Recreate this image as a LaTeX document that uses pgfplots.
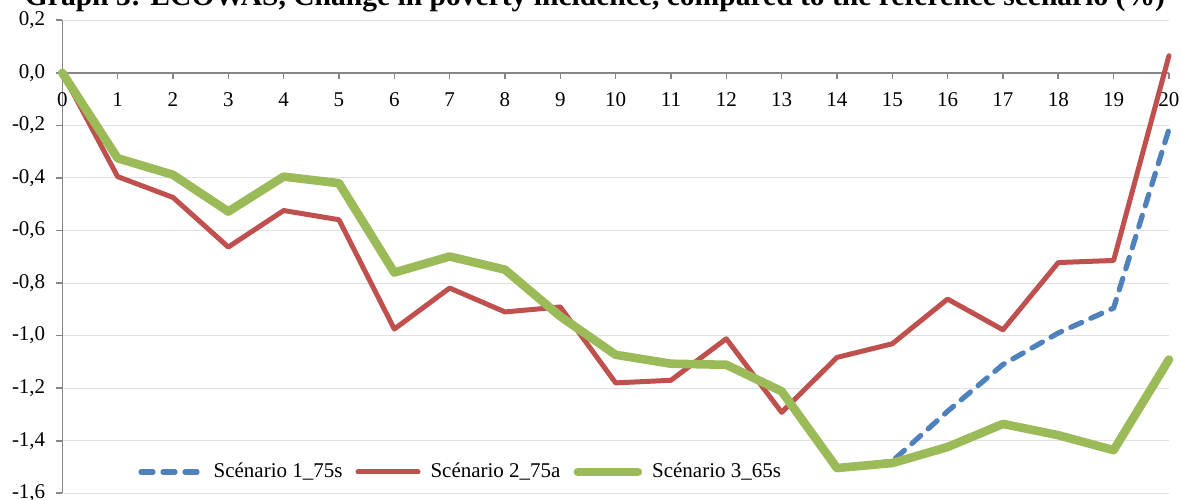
\documentclass[border=0pt]{standalone}
\usepackage{pgfplots}
\usepackage{pgfplotstable}
\pgfplotsset{compat=1.18}
\usepackage{fontspec}
\setmainfont{Liberation Serif}

\definecolor{sOne}{HTML}{4F81BD}
\definecolor{sTwo}{HTML}{C0504D}
\definecolor{sThree}{HTML}{9BBB59}
\definecolor{axisgray}{HTML}{868686}
\definecolor{gridgray}{HTML}{E0E0E0}

% year, scenario 1 (75s), scenario 2 (75a), scenario 3 (65s)
\pgfplotstableread{
t   s1      s2      s3
0   0.000   0.000   0.000
1  -0.325  -0.395  -0.325
2  -0.388  -0.474  -0.388
3  -0.528  -0.663  -0.528
4  -0.395  -0.524  -0.395
5  -0.420  -0.559  -0.420
6  -0.760  -0.975  -0.760
7  -0.699  -0.819  -0.699
8  -0.749  -0.910  -0.749
9  -0.927  -0.891  -0.927
10 -1.073  -1.180  -1.073
11 -1.107  -1.170  -1.107
12 -1.111  -1.012  -1.111
13 -1.212  -1.292  -1.212
14 -1.504  -1.083  -1.504
15 -1.478  -1.031  -1.485
16 -1.288  -0.861  -1.424
17 -1.110  -0.978  -1.336
18 -0.990  -0.722  -1.379
19 -0.895  -0.714  -1.436
20 -0.215   0.065  -1.091
}\poverty

\begin{document}
\begin{tikzpicture}
\begin{axis}[
  scale only axis,
  width=553.35pt, height=236.5pt,
  xmin=0, xmax=20, ymin=-1.6, ymax=0.2,
  clip=false,
  axis y line=left,
  axis x line=middle,
  hide obscured x ticks=false,
  axis line style={-, draw=axisgray, line width=0.8pt},
  xtick={0,1,...,20},
  ytick={-1.6,-1.4,...,0.2},
  yticklabels={{-1,6},{-1,4},{-1,2},{-1,0},{-0,8},{-0,6},{-0,4},{-0,2},{0,0},{0,2}},
  xticklabel={\pgfmathprintnumber[assume math mode=true]{\tick}},
  tick align=outside,
  major tick length=3pt,
  tick style={draw=axisgray, line width=0.8pt},
  ymajorgrids,
  grid style={draw=gridgray, line width=0.5pt},
  tick label style={font=\fontsize{10.5}{12}\selectfont},
  xticklabel style={yshift=-3.5pt},
  yticklabel style={xshift=-2pt},
  legend style={
    at={(rel axis cs:0.063,0.045)}, anchor=west,
    draw=none, fill=none,
    font=\fontsize{10.5}{12}\selectfont,
    /tikz/every odd column/.append style={column sep=3pt},
    /tikz/every even column/.append style={column sep=4.5pt},
  },
  legend columns=3,
  legend image code/.code={\draw[#1] (0pt,0pt) -- (30pt,0pt);},
  every axis plot/.append style={line join=round, line cap=round},
]
\addplot[sOne, line width=2.6pt, dash pattern=on 6pt off 5pt] table[x=t, y=s1] {\poverty};
\addlegendentry{Scénario 1\_75s}
\addplot[sTwo, line width=2.5pt] table[x=t, y=s2] {\poverty};
\addlegendentry{Scénario 2\_75a}
\addplot[sThree, line width=4.3pt] table[x=t, y=s3] {\poverty};
\addlegendentry{Scénario 3\_65s}

\node[anchor=base, yshift=-3pt, font=\bfseries] at (rel axis cs:0.4813,1.0429)
  {\resizebox{570pt}{!}{Graph 3: ECOWAS, Change in poverty incidence, compared to the reference scenario (\%)}};

\coordinate (bbSW) at (rel axis cs:-0.0563,-0.0142);
\coordinate (bbNE) at (rel axis cs:1.0118,1.0429);
\end{axis}
\pgfresetboundingbox
\path[use as bounding box] (bbSW) rectangle (bbNE);
\end{tikzpicture}
\end{document}
